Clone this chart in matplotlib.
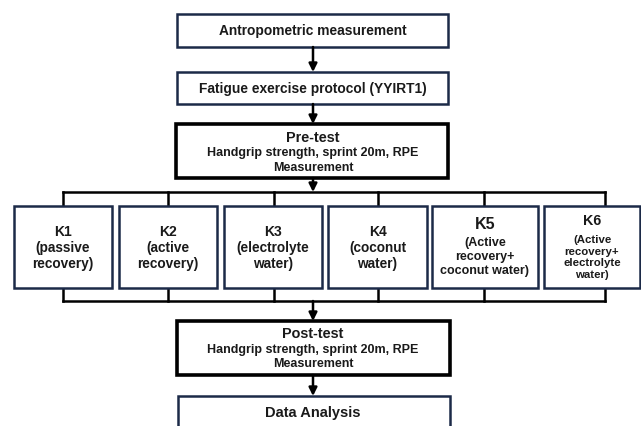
import matplotlib
matplotlib.use("Agg")
import matplotlib.pyplot as plt
from matplotlib.patches import Rectangle

plt.rcParams['font.family'] = ['Liberation Sans', 'DejaVu Sans']

top_steps = ["Antropometric measurement", "Fatigue exercise protocol (YYIRT1)"]
pre_test = ["Pre-test", "Handgrip strength, sprint 20m, RPE", "Measurement"]
groups = ["K1", "K2", "K3", "K4", "K5", "K6"]
group_desc = ["(passive\nrecovery)", "(active\nrecovery)", "(electrolyte\nwater)",
              "(coconut\nwater)", "(Active\nrecovery+\ncoconut water)",
              "(Active\nrecovery+\nelectrolyte\nwater)"]
post_test = ["Post-test", "Handgrip strength, sprint 20m, RPE", "Measurement"]
final_step = "Data Analysis"

W, H = 641, 427
fig = plt.figure(figsize=(W / 100, H / 100), dpi=100)
ax = fig.add_axes([0, 0, 1, 1])
ax.set_xlim(0, W)
ax.set_ylim(H, 0)
ax.axis('off')

NAVY = '#1c2a48'
TXT = '#1a1a1a'
cx = 313

def box(x0, y0, x1, y1, ec=NAVY, lw=1.8):
    ax.add_patch(Rectangle((x0, y0), x1 - x0, y1 - y0, fill=True, fc='white',
                           ec=ec, lw=lw, zorder=2, clip_on=False))

def label(x, y, s, fs, ls=1.2):
    ax.text(x, y, s, ha='center', va='center', fontsize=fs, fontweight='bold',
            color=TXT, linespacing=ls, zorder=4)

def arrow(x, y0, y1):
    ax.annotate('', xy=(x, y1), xytext=(x, y0),
                arrowprops=dict(arrowstyle='-|>', color='black', lw=1.8,
                                mutation_scale=12, shrinkA=0, shrinkB=0),
                zorder=3)

# top boxes
box(177, 15, 448, 48)
label(cx, 31.5, top_steps[0], 9.9)
arrow(cx, 48, 73)
box(177, 73, 448, 105)
label(cx, 89, top_steps[1], 9.9)
arrow(cx, 105, 125)

# pre-test
box(176, 125, 448, 179, ec='black', lw=2.6)
label(cx, 138, pre_test[0], 10.4)
label(cx, 153.5, pre_test[1], 9.0)
label(cx, 168, pre_test[2], 9.0)
arrow(cx, 179, 193)

# group boxes
xs = [(14, 112), (119, 217), (224, 322), (328, 427), (432, 538), (544, 640)]
centers = [63, 168, 274, 378, 484, 605]
bus_top, bus_bot = 193, 302
ax.plot([centers[0], centers[-1]], [bus_top, bus_top], color='black', lw=1.8, zorder=1)
ax.plot([centers[0], centers[-1]], [bus_bot, bus_bot], color='black', lw=1.8, zorder=1)
for i, (g, d) in enumerate(zip(groups, group_desc)):
    x0, x1 = xs[i]
    c = centers[i]
    xm = (x0 + x1) / 2
    ax.plot([c, c], [bus_top, 207], color='black', lw=1.8, zorder=1)
    ax.plot([c, c], [289, bus_bot], color='black', lw=1.8, zorder=1)
    box(x0, 207, x1, 289)
    if i < 4:
        label(xm, 232, g, 10)
        label(xm, 256, d, 9.8, 1.15)
    elif i == 4:
        label(xm, 225, g, 11.5)
        label(xm, 257, d, 9.0, 1.18)
    else:
        label(xm, 221, g, 10.3)
        label(xm, 257.5, d, 8.2, 1.2)

arrow(cx, bus_bot, 322)

# post-test
box(177, 322, 450, 376, ec='black', lw=2.6)
label(cx, 334, post_test[0], 10.4)
label(cx, 350, post_test[1], 9.0)
label(cx, 364, post_test[2], 9.0)
arrow(cx, 376, 397)

# data analysis
box(178, 397, 450, 440)
label(cx, 413, final_step, 10.5)

fig.savefig('out.png', dpi=100, facecolor='white')
